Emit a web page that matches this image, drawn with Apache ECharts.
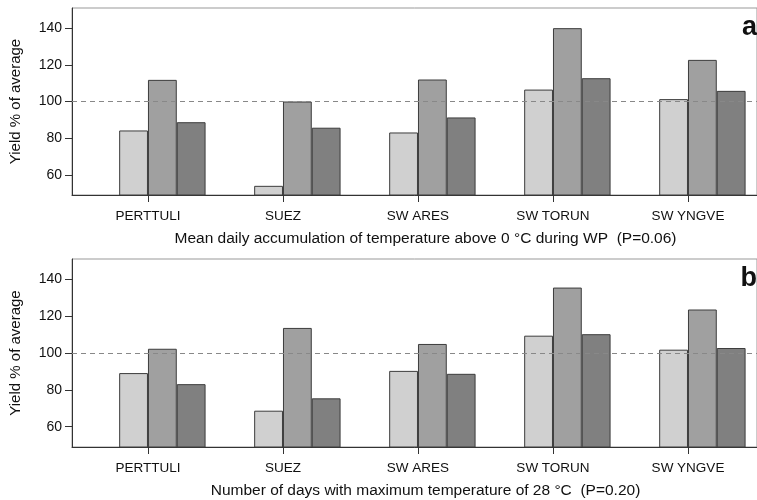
<!DOCTYPE html>
<html>
<head>
<meta charset="utf-8">
<script src="https://cdn.jsdelivr.net/npm/echarts@6/dist/echarts.min.js"></script>
<style>html,body{margin:0;padding:0;background:#fff}#c{width:757px;height:500px}</style>
</head>
<body>
<div id="c"></div>
<script>
const categories = ['PERTTULI', 'SUEZ', 'SW ARES', 'SW TORUN', 'SW YNGVE'];
const yTicks = [60, 80, 100, 120, 140];
// Panel a
const aLight = [84.2, 54.0, 83.1, 106.5, 101.3];
const aMid   = [111.8, 100.0, 112.0, 140.0, 122.7];
const aDark  = [88.7, 85.7, 91.3, 112.7, 105.8];
// Panel b
const bLight = [89.1, 68.7, 90.3, 109.4, 101.8];
const bMid   = [102.3, 113.6, 104.9, 135.5, 123.6];
const bDark  = [83.1, 75.4, 88.7, 110.2, 102.7];
const refLine = 100;
const xTitleA = 'Mean daily accumulation of temperature above 0 \u00B0C during WP  (P=0.06)';
const xTitleB = 'Number of days with maximum temperature of 28 \u00B0C  (P=0.20)';
const yTitle = 'Yield % of average';

const FONT = 'Liberation Sans, Arial, sans-serif';
const colors = ['#d0d0d0', '#a0a0a0', '#808080'];
const BAR_W = 28.8;
const UNIT = 135.2;           // px per category
const GRID_LEFT = 72, GRID_RIGHT = -1;
const plotW = 757 - GRID_LEFT - GRID_RIGHT;
const xMin = (GRID_LEFT - 162.5) / UNIT;
const xMax = xMin + plotW / UNIT;
const tickShift = (BAR_W / 2) / UNIT;
const tickPos = categories.map((c, i) => i - tickShift);

const grids = [
  {left: GRID_LEFT, right: GRID_RIGHT, top: 8, height: 187, show: true, borderColor: '#999', borderWidth: 1, backgroundColor: 'transparent'},
  {left: GRID_LEFT, right: GRID_RIGHT, top: 259, height: 188, show: true, borderColor: '#999', borderWidth: 1, backgroundColor: 'transparent'}
];

function xAxisFor(gi, title) {
  return {
    type: 'value', gridIndex: gi, min: xMin, max: xMax,
    splitLine: {show: false},
    axisLine: {show: true, onZero: false, lineStyle: {color: '#333', width: 1}},
    axisTick: {show: true, customValues: tickPos, length: 7, inside: false, lineStyle: {color: '#333'}},
    axisLabel: {
      customValues: tickPos, margin: 14, color: '#111', fontFamily: FONT, fontSize: 13.5,
      formatter: function (v) {
        const i = Math.round(v + tickShift);
        return categories[i] || '';
      }
    },
    name: title, nameLocation: 'middle', nameGap: 36,
    nameTextStyle: {color: '#111', fontFamily: FONT, fontSize: 15.5, padding: [0, 0, 0, 22]}
  };
}
function yAxisFor(gi) {
  return {
    type: 'value', gridIndex: gi, min: 49, max: 151,
    splitLine: {show: false},
    axisLine: {show: true, onZero: false, lineStyle: {color: '#333', width: 1}},
    axisTick: {show: true, customValues: yTicks, length: 7, lineStyle: {color: '#333'}},
    axisLabel: {customValues: yTicks, margin: 10, color: '#111', fontFamily: FONT, fontSize: 14},
    name: yTitle, nameLocation: 'middle', nameGap: 49, nameRotate: 90,
    nameTextStyle: {color: '#111', fontFamily: FONT, fontSize: 15}
  };
}
function bars(gi, vals, ci, withRef) {
  const s = {
    type: 'bar', xAxisIndex: gi, yAxisIndex: gi,
    data: vals.map((v, i) => [i, v]),
    barWidth: BAR_W, barGap: '0%',
    itemStyle: {color: colors[ci], borderColor: '#3c3c3c', borderWidth: 1},
    silent: true, animation: false
  };
  if (withRef) {
    s.markLine = {
      silent: true, symbol: 'none', animation: false, z: 10,
      label: {show: false},
      lineStyle: {color: '#888', type: [5, 4], width: 1},
      data: [{yAxis: refLine}]
    };
  }
  return s;
}

const chart = echarts.init(document.getElementById('c'), null, {renderer: 'canvas'});
chart.setOption({
  animation: false,
  backgroundColor: '#fff',
  grid: grids,
  title: [
    {text: 'a', right: 0, top: 14, padding: 0, textStyle: {fontFamily: FONT, fontSize: 27, fontWeight: 'bold', color: '#111'}},
    {text: 'b', right: 0, top: 265, padding: 0, textStyle: {fontFamily: FONT, fontSize: 27, fontWeight: 'bold', color: '#111'}}
  ],
  xAxis: [xAxisFor(0, xTitleA), xAxisFor(1, xTitleB)],
  yAxis: [yAxisFor(0), yAxisFor(1)],
  series: [
    bars(0, aLight, 0, false), bars(0, aMid, 1, false), bars(0, aDark, 2, true),
    bars(1, bLight, 0, false), bars(1, bMid, 1, false), bars(1, bDark, 2, true)
  ]
});
</script>
</body>
</html>
